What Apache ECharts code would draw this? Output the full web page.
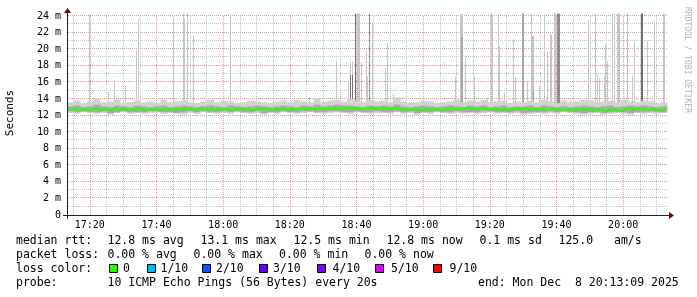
<!DOCTYPE html>
<html><head><meta charset="utf-8">
<script src="https://cdn.jsdelivr.net/npm/echarts@6/dist/echarts.min.js"></script>
<style>html,body{margin:0;padding:0;background:#fff}#c{width:697px;height:297px}</style>
</head><body><div id="c"></div>
<script>
// time in minutes since midnight; window 17:13:09 .. 20:13:09
const startMinute = 1033.15;
const endMinute = 1213.15;
const medianStep = 1;      // minutes per median value
const smokeStep = 2;       // minutes per smoke slot
const pingStep = 1 / 3;    // 20 s

const xTickLabels = ['17:20','17:40','18:00','18:20','18:40','19:00','19:20','19:40','20:00'];
const yTickValues = [0,2,4,6,8,10,12,14,16,18,20,22,24];
const yMinorValues = [1,3,5,7,9,11,13,15,17,19,21,23];

// median rtt (ms), one per minute
const median = [
 12.8,12.7,12.9,12.6,12.7,12.8,12.6,12.7,12.9,12.7,
 12.6,12.8,12.7,12.7,12.9,12.6,12.8,12.7,12.6,12.8,
 12.7,12.9,12.7,12.6,12.8,12.7,12.8,12.6,12.7,12.9,
 12.7,12.8,12.6,12.7,12.8,12.7,12.9,12.7,12.6,12.8,
 12.8,12.7,12.7,12.9,12.6,12.8,12.7,12.8,12.7,12.6,
 12.8,12.7,12.9,12.7,12.8,12.6,12.7,12.8,12.7,12.9,
 12.7,12.6,12.8,12.7,12.8,12.7,12.6,12.8,12.7,12.8,
 12.8,12.7,12.9,12.8,12.7,12.8,12.9,12.7,12.8,12.8,
 12.9,12.8,12.7,12.9,13.0,12.8,12.9,12.7,12.8,12.9,
 12.8,12.9,12.8,12.7,12.9,12.8,12.8,12.7,12.9,12.8,
 12.7,12.8,12.6,12.7,12.8,12.7,12.6,12.8,12.7,12.7,
 12.8,12.7,12.6,12.8,12.7,12.9,12.8,12.7,12.8,12.9,
 12.9,12.8,12.7,12.8,12.9,12.7,12.8,12.7,12.8,12.7,
 12.7,12.8,12.6,12.8,12.7,12.8,12.7,12.9,12.8,12.7,
 12.8,12.7,12.8,12.6,12.7,12.8,12.7,12.8,12.6,12.7,
 12.8,12.7,12.6,12.7,12.8,12.7,12.8,12.6,12.7,12.8,
 12.7,12.5,12.7,12.6,12.8,12.6,12.5,12.7,12.9,12.7,
 12.8,12.9,12.7,12.8,12.6,12.7,12.8,12.7,12.6,12.8
];

// smoke: outer band (min..max ping) per 2-minute slot
const smokeHi = [
 13.6,13.8,13.5,13.7,14.0,13.6,13.7,13.9,13.5,13.6,
 13.8,13.6,13.7,13.5,13.9,13.6,13.7,13.8,13.6,13.5,
 13.7,13.9,13.6,13.8,13.7,13.5,13.6,13.8,13.7,13.6,
 13.5,13.7,13.8,13.6,13.9,13.7,13.6,14.1,13.7,13.8,
 13.9,13.7,14.0,13.8,13.6,13.9,13.7,13.8,13.6,14.2,
 13.7,13.5,13.6,13.8,13.7,13.5,13.6,13.7,13.9,13.6,
 13.8,13.7,13.9,13.6,13.7,13.8,13.5,13.7,13.6,13.8,
 13.6,13.9,13.7,13.5,13.8,13.6,13.7,13.9,13.8,13.6,
 13.7,13.8,13.6,13.9,13.7,13.6,13.8,13.7,13.5,13.6
];
const smokeLo = [
 12.3,12.2,12.4,12.3,12.2,12.3,12.1,12.3,12.4,12.2,
 12.3,12.2,12.3,12.4,12.2,12.3,12.2,12.1,12.3,12.2,
 12.4,12.3,12.2,12.3,12.2,12.4,12.3,12.2,12.3,12.1,
 12.3,12.2,12.4,12.3,12.2,12.3,12.4,12.3,12.2,12.3,
 12.4,12.3,12.2,12.4,12.3,12.2,12.3,12.3,12.2,12.4,
 12.2,12.3,12.1,12.3,12.2,12.4,12.3,12.2,12.3,12.2,
 12.3,12.2,12.3,12.4,12.2,12.3,12.2,12.3,12.1,12.2,
 12.3,12.2,12.3,12.2,12.4,12.3,12.2,12.1,12.2,12.3,
 12.1,12.2,12.3,12.2,12.1,12.3,12.2,12.3,12.2,12.3
];
// smoke: inner band (middle pings)
const coreHi = [
 13.1,13.2,13.0,13.1,13.3,13.1,13.0,13.2,13.1,13.0,
 13.2,13.1,13.0,13.1,13.2,13.0,13.1,13.2,13.1,13.0,
 13.1,13.2,13.1,13.0,13.2,13.1,13.0,13.1,13.2,13.1,
 13.0,13.1,13.2,13.1,13.0,13.2,13.1,13.3,13.1,13.2,
 13.3,13.2,13.2,13.1,13.0,13.2,13.1,13.2,13.1,13.3,
 13.1,13.0,13.1,13.2,13.1,13.0,13.1,13.2,13.1,13.0,
 13.2,13.1,13.2,13.0,13.1,13.2,13.0,13.1,13.1,13.2,
 13.0,13.2,13.1,13.0,13.1,13.0,13.1,13.2,13.1,13.0,
 13.1,13.2,13.0,13.1,13.2,13.1,13.2,13.1,13.0,13.1
];
const coreLo = [
 12.5,12.4,12.5,12.4,12.4,12.5,12.3,12.4,12.5,12.4,
 12.4,12.4,12.5,12.5,12.4,12.4,12.3,12.4,12.5,12.4,
 12.5,12.4,12.4,12.5,12.4,12.5,12.4,12.4,12.5,12.3,
 12.4,12.4,12.5,12.4,12.4,12.5,12.5,12.4,12.4,12.5,
 12.5,12.4,12.4,12.5,12.4,12.4,12.5,12.4,12.4,12.5,
 12.4,12.5,12.3,12.4,12.4,12.5,12.4,12.4,12.5,12.4,
 12.4,12.4,12.5,12.5,12.4,12.4,12.4,12.5,12.3,12.4,
 12.4,12.4,12.5,12.4,12.5,12.4,12.4,12.3,12.4,12.4,
 12.3,12.4,12.4,12.4,12.3,12.4,12.4,12.5,12.4,12.4
];

// outlier pings: [minute, top (ms), pings in the spike]
const spikes = [
 [1040.05,24.2,1],[1045.75,14.9,1],[1047.34,16.3,1],[1050.64,15.6,1],[1054.06,19.8,1],[1054.54,23.7,1],
 [1065.25,23.7,1],[1068.04,24.3,1],[1068.34,23.7,1],[1069.30,24.3,1],[1071.04,21.6,1],[1082.14,24.2,1],
 [1106.05,14.2,1],[1114.00,18.6,1],[1117.66,16.0,1],[1118.35,18.5,1],[1118.65,18.5,1],[1119.64,24.3,4],
 [1120.30,24.3,1],[1120.60,24.3,1],[1120.84,24.3,1],[1121.50,18.4,1],[1123.00,19.8,1],[1123.36,16.7,1],
 [1123.90,24.3,3],[1124.65,21.6,1],[1124.95,23.0,1],[1128.70,17.7,1],[1129.24,20.7,1],[1131.04,14.6,1],
 [1135.84,13.6,4],[1149.85,16.7,1],[1151.14,24.2,1],[1151.44,24.2,1],[1151.74,24.2,1],[1152.85,19.0,1],
 [1155.34,16.6,1],[1159.15,14.1,1],[1160.50,24.3,1],[1160.80,24.3,1],[1162.54,24.2,1],[1163.05,20.4,1],
 [1164.34,14.7,1],[1167.04,21.2,1],[1167.64,16.6,1],[1169.80,24.3,2],[1170.10,24.3,2],[1171.20,16.2,1],
 [1172.44,24.2,1],[1172.95,21.6,1],[1173.25,21.6,1],[1175.05,15.6,1],[1176.34,24.2,1],[1177.15,19.7,1],
 [1178.20,21.8,1],[1178.50,21.8,1],[1179.40,24.3,1],[1179.70,24.3,1],[1180.45,24.3,3],[1180.75,24.3,3],
 [1181.05,24.3,3],[1184.35,13.9,1],[1184.86,13.3,1],[1189.75,23.5,1],[1191.85,24.2,1],[1192.36,16.9,1],
 [1193.05,16.5,1],[1194.34,16.7,1],[1194.85,20.5,1],[1195.36,18.5,1],[1196.86,24.3,1],[1197.55,24.3,1],
 [1198.15,24.3,1],[1198.66,24.3,1],[1199.05,24.3,1],[1201.15,24.3,1],[1202.86,16.8,1],[1203.55,20.9,1],
 [1205.50,24.3,4],[1205.80,24.3,4],[1207.45,21.0,1],[1209.40,23.4,1],[1212.10,24.3,1],[1212.40,24.3,1],
 [1118.35,16.9,4],[1118.65,16.9,4],[1151.44,21.4,2],[1151.74,21.4,2],[1173.25,15.0,2]
];

const lossLabels = ['0','1/10','2/10','3/10','4/10','5/10','9/10'];
const lossColors = ['#26ff00','#00b8ff','#0059ff','#5e00ff','#7e00ff','#dd00ff','#ff0000'];
const statsRtt = ['12.8 ms avg','13.1 ms max','12.5 ms min','12.8 ms now','0.1 ms sd','125.0','am/s'];
const statsLoss = ['0.00 % avg','0.00 % max','0.00 % min','0.00 % now'];

// ---------- build ----------
const yMin = 0, yMax = 24;
const toMin = s => { const p = s.split(':'); return +p[0] * 60 + +p[1]; };
const fmtMin = v => { const h = Math.floor(v / 60), m = Math.round(v - h * 60); return (h < 10 ? '0' : '') + h + ':' + (m < 10 ? '0' : '') + m; };
const majorX = xTickLabels.map(toMin);
const minorX = [];
for (let m = Math.ceil(startMinute / 5) * 5; m <= endMinute; m += 5) if (majorX.indexOf(m) < 0) minorX.push(m);

const medianData = median.map((v, i) => [startMinute + (i + 0.5) * medianStep, v]);
const outerData = smokeHi.map((v, i) => [startMinute + i * smokeStep, smokeLo[i], v]);
const coreData = coreHi.map((v, i) => [startMinute + i * smokeStep, coreLo[i], v]);
const spikeData = spikes.map(s => [s[0], 13.0, s[1], s[2]]);

const pingShade = n => n >= 4 ? '#707070' : (n >= 3 ? '#8e8e8e' : (n >= 2 ? '#a6a6a6' : '#c6c6c6'));

function bandRender(step, color) {
  return function (params, api) {
    const a = api.coord([api.value(0), api.value(2)]);
    const b = api.coord([api.value(0) + step, api.value(1)]);
    return { type: 'rect', shape: { x: a[0], y: a[1], width: b[0] - a[0] + 0.3, height: b[1] - a[1] }, style: { fill: color } };
  };
}
function spikeRender(params, api) {
  const a = api.coord([api.value(0), api.value(2)]);
  const b = api.coord([api.value(0), api.value(1)]);
  const w = Math.max(1, Math.round(api.size([pingStep, 0])[0]));
  return { type: 'rect', shape: { x: Math.floor(a[0]), y: a[1], width: w, height: b[1] - a[1] }, style: { fill: pingShade(api.value(3)) } };
}
// dotted grid lines placed through the axes' scales
function vGrid(color) {
  return function (params, api) {
    const top = api.coord([api.value(0), yMax]), bot = api.coord([api.value(0), yMin]);
    const x = Math.round(top[0]) + 0.5;
    return { type: 'line', shape: { x1: x, y1: Math.round(top[1]), x2: x, y2: Math.round(bot[1]) }, style: { stroke: color, lineWidth: 1, lineDash: [1, 1] } };
  };
}
function hGrid(color) {
  return function (params, api) {
    const l = api.coord([startMinute, api.value(1)]), r = api.coord([endMinute, api.value(1)]);
    const y = Math.round(l[1]) - 0.5;
    return { type: 'line', shape: { x1: Math.round(l[0]) + 1, y1: y, x2: Math.round(r[0]), y2: y }, style: { stroke: color, lineWidth: 1, lineDash: [1, 1] } };
  };
}

const G = { left: 67, right: 30, top: 16, bottom: 82 };
const W = 697, H = 297;
const axisX0 = G.left, axisX1 = W - G.right, axisY0 = H - G.bottom, axisY1 = G.top;
const axisColor = '#202020', arrowColor = '#800000';
const majorColor = '#e69494', minorColor = '#c2c2c2';
const mono = 'DejaVu Sans Mono';
const lf = '11.5px "' + mono + '"';

const graphic = [];
function txt(x, y, s, extra) {
  graphic.push(Object.assign({ type: 'text', x: x, y: y, silent: true, style: { text: s, font: lf, fill: '#000', textVerticalAlign: 'middle' } }, extra || {}));
}
// axis extensions and arrows
graphic.push({ type: 'line', silent: true, z: 10, shape: { x1: axisX0, y1: axisY0 + 4, x2: axisX0, y2: axisY1 - 4 }, style: { stroke: axisColor, lineWidth: 1 }, x: 0.5 });
graphic.push({ type: 'line', silent: true, z: 10, shape: { x1: axisX0 - 4, y1: axisY0, x2: axisX1 + 3, y2: axisY0 }, style: { stroke: axisColor, lineWidth: 1 }, y: 0.5 });
graphic.push({ type: 'polygon', silent: true, z: 11, shape: { points: [[axisX0 - 3, axisY1 - 3], [axisX0 + 4, axisY1 - 3], [axisX0 + 0.5, axisY1 - 8]] }, style: { fill: arrowColor } });
graphic.push({ type: 'polygon', silent: true, z: 11, shape: { points: [[axisX1 + 2, axisY0 - 3], [axisX1 + 2, axisY0 + 4], [axisX1 + 7, axisY0 + 0.5]] }, style: { fill: arrowColor } });

// y axis title and watermark
graphic.push({ type: 'text', x: 10, y: 113, rotation: Math.PI / 2, silent: true, style: { text: 'Seconds', font: '11px "' + mono + '"', fill: '#000', textAlign: 'center', textVerticalAlign: 'middle' } });
graphic.push({ type: 'text', x: 687, y: 60, rotation: -Math.PI / 2, silent: true, style: { text: 'RRDTOOL / TOBI OETIKER', font: '8px "' + mono + '"', fill: '#b4b4b4', textAlign: 'center', textVerticalAlign: 'middle' } });

// legend lines
txt(16, 241, 'median rtt:');
const rttX = [107.5, 200.5, 293.5, 386.5, 479.5, 558.5, 614];
statsRtt.forEach((s, i) => txt(rttX[i], 241, s));
txt(16, 255, 'packet loss:');
const lossX = [107.5, 193.5, 279, 364.5];
statsLoss.forEach((s, i) => txt(lossX[i], 255, s));
txt(16, 269, 'loss color:');
const boxX = [109.5, 147.5, 202.5, 259.5, 317.5, 375.5, 433.5];
const labX = [123, 160.5, 216, 273, 332.5, 391, 449.5];
lossLabels.forEach((s, i) => {
  graphic.push({ type: 'rect', silent: true, shape: { x: boxX[i], y: 264.5, width: 8, height: 8 }, style: { fill: lossColors[i], stroke: '#000', lineWidth: 1 } });
  txt(labX[i], 269, s);
});
txt(16, 283, 'probe:');
txt(107.5, 283, '10 ICMP Echo Pings (56 Bytes) every 20s');
txt(478, 283, 'end: Mon Dec  8 20:13:09 2025');

const chart = echarts.init(document.getElementById('c'), null, { renderer: 'canvas' });
chart.setOption({
  animation: false,
  backgroundColor: '#ffffff',
  grid: G,
  xAxis: {
    type: 'value', min: startMinute, max: endMinute, position: 'bottom',
    axisLine: { show: true, lineStyle: { color: axisColor, width: 1 } },
    axisTick: { show: false, customValues: majorX },
    axisLabel: { show: true, customValues: majorX, formatter: fmtMin, margin: 5, color: '#000', fontFamily: mono, fontSize: 10 },
    splitLine: { show: false }
  },
  yAxis: {
    type: 'value', min: yMin, max: yMax, interval: 2,
    axisLine: { show: true, lineStyle: { color: axisColor, width: 1 } },
    axisTick: { show: false },
    axisLabel: { margin: 6, color: '#000', fontFamily: mono, fontSize: 10,
      formatter: v => (v === 0 ? '0' : (yTickValues.indexOf(v) >= 0 ? v + ' m' : '')) },
    splitLine: { show: false }
  },
  series: [
    { type: 'custom', name: 'minorX', data: minorX.map(v => [v, yMin]), renderItem: vGrid(minorColor), z: 1, silent: true },
    { type: 'custom', name: 'minorY', data: yMinorValues.map(v => [startMinute, v]), renderItem: hGrid(minorColor), z: 1, silent: true },
    { type: 'custom', name: 'majorX', data: majorX.map(v => [v, yMin]), renderItem: vGrid(majorColor), z: 1, silent: true },
    { type: 'custom', name: 'majorY', data: yTickValues.filter(v => v > 0).map(v => [startMinute, v]), renderItem: hGrid(majorColor), z: 1, silent: true },
    { type: 'custom', name: 'spikes', clip: false, data: spikeData, renderItem: spikeRender, z: 2, silent: true },
    { type: 'custom', name: 'smoke', data: outerData, renderItem: bandRender(smokeStep, '#d2d2d2'), z: 3, silent: true },
    { type: 'custom', name: 'core', data: coreData, renderItem: bandRender(smokeStep, '#ababab'), z: 4, silent: true },
    { type: 'line', name: 'median', data: medianData, showSymbol: false, symbol: 'none',
      lineStyle: { color: lossColors[0], width: 2 }, z: 5, silent: true }
  ],
  graphic: graphic
});
</script></body></html>
